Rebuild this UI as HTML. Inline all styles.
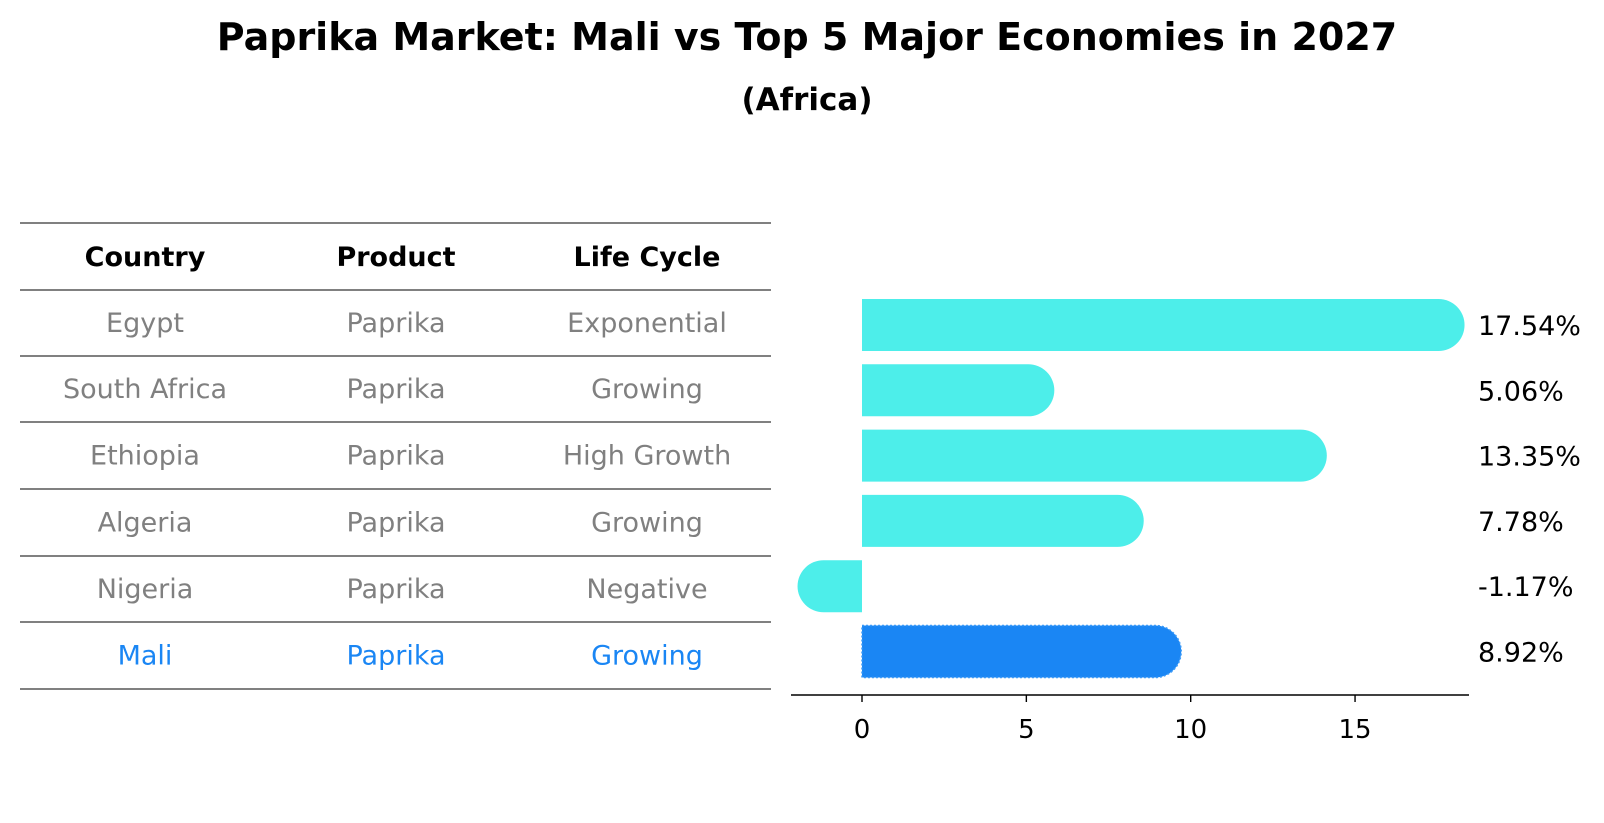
<!DOCTYPE html>
<html><head><meta charset="utf-8"><style>
body{margin:0;background:#fff;font-family:"DejaVu Sans","Liberation Sans",sans-serif;}
#wrap{position:relative;width:1604px;height:823px;overflow:hidden;}
</style></head><body>
<div id="wrap">
<svg id="svg" width="1604" height="823" xmlns="http://www.w3.org/2000/svg">
<text x="807" y="50" text-anchor="middle" font-size="38" font-weight="bold" font-family="DejaVu Sans, sans-serif">Paprika Market: Mali vs Top 5 Major Economies in 2027</text>
<text x="807" y="110" text-anchor="middle" font-size="31" font-weight="bold" font-family="DejaVu Sans, sans-serif">(Africa)</text>
<g id="table"></g>
<g id="bars"></g>
</svg>
</div>
<script>
const countries=["Egypt","South Africa","Ethiopia","Algeria","Nigeria","Mali"];
const products=["Paprika","Paprika","Paprika","Paprika","Paprika","Paprika"];
const lifeCycles=["Exponential","Growing","High Growth","Growing","Negative","Growing"];
const growthValues=[17.54,5.06,13.35,7.78,-1.17,8.92];
const tickValues=[0,5,10,15];

const NS="http://www.w3.org/2000/svg";
const tbl=document.getElementById('table');
const bars=document.getElementById('bars');
function mk(tag,attrs,parent){const e=document.createElementNS(NS,tag);for(const k in attrs)e.setAttribute(k,attrs[k]);parent.appendChild(e);return e;}
const FONT="DejaVu Sans, Liberation Sans, sans-serif";

const lineYs=[223,290,356,422,489,556,622,689];
const colX=[145,396,647];
lineYs.forEach(y=>{
  const l=mk('line',{x1:20,x2:771,y1:y,y2:y,stroke:'#000','stroke-width':1},tbl);
  
  
});
["Country","Product","Life Cycle"].forEach((h,j)=>{
  const t=mk('text',{x:colX[j],y:266,'text-anchor':'middle','font-size':27,'font-weight':'bold','font-family':FONT},tbl);
  t.textContent=h;
  
  
});
const rowCenter=i=>(lineYs[i+1]+lineYs[i+2])/2;
countries.forEach((c,i)=>{
  const col=i===countries.length-1?'#1a86f4':'#808080';
  [c,products[i],lifeCycles[i]].forEach((v,j)=>{
    const t=mk('text',{x:colX[j],y:rowCenter(i)+9,'text-anchor':'middle','font-size':27,fill:col,'font-family':FONT},tbl);
    t.textContent=v;
    
    
  });
});

const x0=862, unit=32.87;
const xs=v=>x0+v*unit;
const ys=i=>325+i*65.3;
const halfH=26;
const ax=mk('line',{x1:791,x2:1469,y1:695,y2:695,stroke:'#000','stroke-width':1.6},bars);


tickValues.forEach(v=>{
  const tk=mk('line',{x1:xs(v),x2:xs(v),y1:695,y2:702,stroke:'#000','stroke-width':1.4},bars);
  
  
  const tl=mk('text',{x:xs(v),y:738,'text-anchor':'middle','font-size':26,'font-family':FONT},bars);
  tl.textContent=String(v);
  
  
});
growthValues.forEach((v,i)=>{
  const isMali=i===growthValues.length-1;
  const col=isMali?'#1a86f4':'#4deeea';
  const y=ys(i),xv=xs(v),r=halfH;
  let d;
  if(v>=0) d=`M${x0},${y-r} L${xv},${y-r} A${r},${r} 0 0 1 ${xv},${y+r} L${x0},${y+r} Z`;
  else d=`M${x0},${y-r} L${xv},${y-r} A${r},${r} 0 0 0 ${xv},${y+r} L${x0},${y+r} Z`;
  const p=mk('path',{d:d,fill:col},bars);
  if(isMali){p.setAttribute('stroke','#3a9af8');p.setAttribute('stroke-dasharray','2 2');p.setAttribute('stroke-width','1.5');}
  
  
  const t=mk('text',{x:1478,y:y+10,'font-size':27,'font-family':FONT},bars);
  t.textContent=v.toFixed(2)+'%';
  
  
});
</script>
</body></html>
